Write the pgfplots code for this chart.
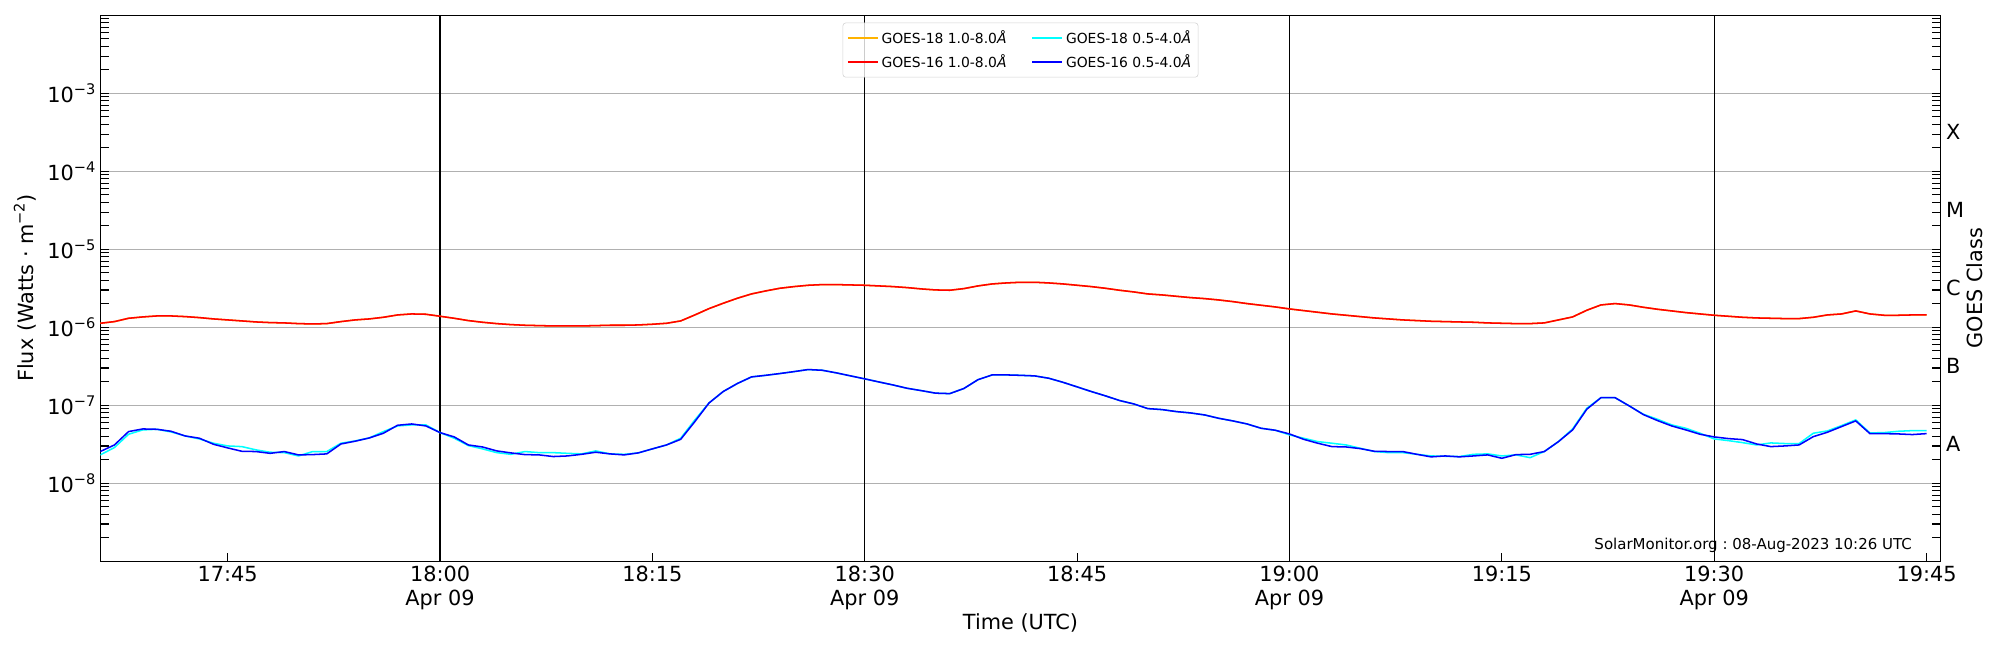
\documentclass[border=0pt]{standalone}
\usepackage{fontspec}
\setmainfont{DejaVu Sans}
\usepackage{pgfplots}
\usepackage{pgfplotstable}
\pgfplotsset{compat=1.18}
\frenchspacing
\definecolor{gold18}{HTML}{FFB300}
\definecolor{red16}{HTML}{FF0000}
\definecolor{cyan18}{HTML}{00FFFF}
\definecolor{blue16}{HTML}{0000FF}
\newcommand{\sups}[1]{\raisebox{0.42em}{\fontsize{10.5}{12}\selectfont #1}}
\newcommand{\lblfont}{\fontsize{15}{17}\selectfont}

\pgfplotstableread{
t L18 L16 S18 S16
36 1.125e-6 1.125e-6 2.31e-8 2.55e-8
37 1.182e-6 1.182e-6 2.87e-8 3.10e-8
38 1.304e-6 1.304e-6 4.25e-8 4.60e-8
39 1.357e-6 1.357e-6 4.83e-8 4.97e-8
40 1.397e-6 1.397e-6 4.92e-8 4.92e-8
41 1.397e-6 1.397e-6 4.55e-8 4.64e-8
42 1.370e-6 1.370e-6 4.04e-8 4.04e-8
43 1.330e-6 1.330e-6 3.70e-8 3.78e-8
44 1.279e-6 1.279e-6 3.26e-8 3.16e-8
45 1.242e-6 1.242e-6 3.01e-8 2.84e-8
46 1.206e-6 1.206e-6 2.95e-8 2.57e-8
47 1.170e-6 1.170e-6 2.68e-8 2.55e-8
48 1.148e-6 1.148e-6 2.50e-8 2.42e-8
49 1.137e-6 1.137e-6 2.47e-8 2.55e-8
50 1.114e-6 1.114e-6 2.24e-8 2.31e-8
51 1.103e-6 1.103e-6 2.55e-8 2.33e-8
52 1.114e-6 1.114e-6 2.55e-8 2.38e-8
53 1.182e-6 1.182e-6 3.26e-8 3.19e-8
54 1.242e-6 1.242e-6 3.49e-8 3.46e-8
55 1.279e-6 1.279e-6 3.81e-8 3.81e-8
56 1.343e-6 1.343e-6 4.60e-8 4.38e-8
57 1.439e-6 1.439e-6 5.43e-8 5.54e-8
58 1.482e-6 1.482e-6 5.60e-8 5.76e-8
59 1.468e-6 1.468e-6 5.60e-8 5.43e-8
60 1.384e-6 1.384e-6 4.46e-8 4.46e-8
61 1.304e-6 1.304e-6 3.78e-8 3.93e-8
62 1.218e-6 1.218e-6 3.04e-8 3.10e-8
63 1.159e-6 1.159e-6 2.76e-8 2.92e-8
64 1.114e-6 1.114e-6 2.47e-8 2.60e-8
65 1.082e-6 1.082e-6 2.35e-8 2.45e-8
66 1.061e-6 1.061e-6 2.55e-8 2.33e-8
67 1.050e-6 1.050e-6 2.47e-8 2.31e-8
68 1.040e-6 1.040e-6 2.47e-8 2.20e-8
69 1.040e-6 1.040e-6 2.42e-8 2.24e-8
70 1.040e-6 1.040e-6 2.38e-8 2.35e-8
71 1.050e-6 1.050e-6 2.60e-8 2.50e-8
72 1.061e-6 1.061e-6 2.38e-8 2.38e-8
73 1.061e-6 1.061e-6 2.35e-8 2.31e-8
74 1.071e-6 1.071e-6 2.45e-8 2.45e-8
75 1.093e-6 1.093e-6 2.76e-8 2.76e-8
76 1.125e-6 1.125e-6 3.10e-8 3.10e-8
77 1.206e-6 1.206e-6 3.78e-8 3.66e-8
78 1.439e-6 1.439e-6 6.49e-8 6.18e-8
79 1.735e-6 1.735e-6 1.07e-7 1.07e-7
80 2.031e-6 2.031e-6 1.50e-7 1.50e-7
81 2.355e-6 2.355e-6 1.90e-7 1.90e-7
82 2.675e-6 2.675e-6 2.31e-7 2.31e-7
83 2.923e-6 2.923e-6 2.42e-7 2.42e-7
84 3.162e-6 3.162e-6 2.55e-7 2.55e-7
85 3.322e-6 3.322e-6 2.70e-7 2.70e-7
86 3.455e-6 3.455e-6 2.87e-7 2.87e-7
87 3.524e-6 3.524e-6 2.81e-7 2.81e-7
88 3.524e-6 3.524e-6 2.60e-7 2.60e-7
89 3.489e-6 3.489e-6 2.38e-7 2.38e-7
90 3.455e-6 3.455e-6 2.18e-7 2.18e-7
91 3.389e-6 3.389e-6 1.99e-7 1.99e-7
92 3.322e-6 3.322e-6 1.82e-7 1.82e-7
93 3.225e-6 3.225e-6 1.65e-7 1.65e-7
94 3.101e-6 3.101e-6 1.54e-7 1.54e-7
95 3.011e-6 3.011e-6 1.43e-7 1.43e-7
96 2.982e-6 2.982e-6 1.41e-7 1.41e-7
97 3.131e-6 3.131e-6 1.64e-7 1.64e-7
98 3.389e-6 3.389e-6 2.13e-7 2.13e-7
99 3.594e-6 3.594e-6 2.45e-7 2.45e-7
100 3.701e-6 3.701e-6 2.45e-7 2.45e-7
101 3.775e-6 3.775e-6 2.42e-7 2.42e-7
102 3.775e-6 3.775e-6 2.38e-7 2.38e-7
103 3.701e-6 3.701e-6 2.22e-7 2.22e-7
104 3.594e-6 3.594e-6 1.97e-7 1.97e-7
105 3.455e-6 3.455e-6 1.72e-7 1.72e-7
106 3.322e-6 3.322e-6 1.50e-7 1.50e-7
107 3.162e-6 3.162e-6 1.32e-7 1.32e-7
108 2.982e-6 2.982e-6 1.15e-7 1.15e-7
109 2.838e-6 2.838e-6 1.04e-7 1.04e-7
110 2.675e-6 2.675e-6 9.06e-8 9.06e-8
111 2.597e-6 2.597e-6 8.80e-8 8.80e-8
112 2.497e-6 2.497e-6 8.30e-8 8.30e-8
113 2.401e-6 2.401e-6 7.98e-8 7.98e-8
114 2.331e-6 2.331e-6 7.52e-8 7.52e-8
115 2.240e-6 2.240e-6 6.81e-8 6.81e-8
116 2.133e-6 2.133e-6 6.30e-8 6.30e-8
117 2.012e-6 2.012e-6 5.76e-8 5.76e-8
118 1.915e-6 1.915e-6 5.07e-8 5.07e-8
119 1.823e-6 1.823e-6 4.78e-8 4.78e-8
120 1.718e-6 1.718e-6 4.17e-8 4.29e-8
121 1.636e-6 1.636e-6 3.78e-8 3.66e-8
122 1.557e-6 1.557e-6 3.42e-8 3.26e-8
123 1.482e-6 1.482e-6 3.26e-8 2.95e-8
124 1.425e-6 1.425e-6 3.10e-8 2.92e-8
125 1.370e-6 1.370e-6 2.81e-8 2.78e-8
126 1.317e-6 1.317e-6 2.55e-8 2.57e-8
127 1.279e-6 1.279e-6 2.47e-8 2.55e-8
128 1.242e-6 1.242e-6 2.47e-8 2.55e-8
129 1.218e-6 1.218e-6 2.35e-8 2.35e-8
130 1.194e-6 1.194e-6 2.24e-8 2.18e-8
131 1.182e-6 1.182e-6 2.22e-8 2.24e-8
132 1.170e-6 1.170e-6 2.20e-8 2.18e-8
133 1.159e-6 1.159e-6 2.35e-8 2.24e-8
134 1.137e-6 1.137e-6 2.38e-8 2.31e-8
135 1.125e-6 1.125e-6 2.24e-8 2.09e-8
136 1.114e-6 1.114e-6 2.31e-8 2.33e-8
137 1.114e-6 1.114e-6 2.13e-8 2.35e-8
138 1.137e-6 1.137e-6 2.55e-8 2.55e-8
139 1.242e-6 1.242e-6 3.42e-8 3.42e-8
140 1.357e-6 1.357e-6 4.97e-8 4.83e-8
141 1.652e-6 1.652e-6 9.15e-8 8.89e-8
142 1.933e-6 1.933e-6 1.25e-7 1.25e-7
143 2.012e-6 2.012e-6 1.25e-7 1.25e-7
144 1.933e-6 1.933e-6 9.81e-8 9.81e-8
145 1.805e-6 1.805e-6 7.67e-8 7.59e-8
146 1.701e-6 1.701e-6 6.61e-8 6.36e-8
147 1.620e-6 1.620e-6 5.60e-8 5.43e-8
148 1.542e-6 1.542e-6 5.07e-8 4.83e-8
149 1.482e-6 1.482e-6 4.38e-8 4.25e-8
150 1.425e-6 1.425e-6 3.70e-8 3.93e-8
151 1.384e-6 1.384e-6 3.52e-8 3.74e-8
152 1.343e-6 1.343e-6 3.32e-8 3.63e-8
153 1.317e-6 1.317e-6 3.10e-8 3.19e-8
154 1.304e-6 1.304e-6 3.29e-8 2.95e-8
155 1.292e-6 1.292e-6 3.23e-8 3.01e-8
156 1.292e-6 1.292e-6 3.23e-8 3.10e-8
157 1.343e-6 1.343e-6 4.38e-8 3.96e-8
158 1.439e-6 1.439e-6 4.69e-8 4.51e-8
159 1.482e-6 1.482e-6 5.49e-8 5.33e-8
160 1.620e-6 1.620e-6 6.49e-8 6.30e-8
161 1.482e-6 1.482e-6 4.42e-8 4.33e-8
162 1.425e-6 1.425e-6 4.46e-8 4.33e-8
163 1.425e-6 1.425e-6 4.64e-8 4.29e-8
164 1.439e-6 1.439e-6 4.73e-8 4.21e-8
165 1.439e-6 1.439e-6 4.73e-8 4.33e-8
}\goes

\begin{document}
\begin{tikzpicture}
\path[use as bounding box] (-72.2pt,-63.9pt) rectangle (1367.8pt,404.1pt);
\begin{axis}[
  at={(0pt,0pt)}, anchor=south west,
  scale only axis, width=1325.1pt, height=393.1pt,
  xmin=36, xmax=166,
  ymode=log, ymin=1e-9, ymax=1e-2,
  xtick={45,60,75,90,105,120,135,150,165},
  xticklabels={17:45,{18:00\\Apr 09},18:15,{18:30\\Apr 09},18:45,{19:00\\Apr 09},19:15,{19:30\\Apr 09},19:45},
  xticklabel style={align=center, font=\lblfont},
  ytick={1e-8,1e-7,1e-6,1e-5,1e-4,1e-3},
  yticklabels={10\sups{−8},10\sups{−7},10\sups{−6},10\sups{−5},10\sups{−4},10\sups{−3}},
  yticklabel style={font=\lblfont},
  minor ytick={2e-9,3e-9,4e-9,5e-9,6e-9,7e-9,8e-9,9e-9,
               2e-8,3e-8,4e-8,5e-8,6e-8,7e-8,8e-8,9e-8,
               2e-7,3e-7,4e-7,5e-7,6e-7,7e-7,8e-7,9e-7,
               2e-6,3e-6,4e-6,5e-6,6e-6,7e-6,8e-6,9e-6,
               2e-5,3e-5,4e-5,5e-5,6e-5,7e-5,8e-5,9e-5,
               2e-4,3e-4,4e-4,5e-4,6e-4,7e-4,8e-4,9e-4,
               2e-3,3e-3,4e-3,5e-3,6e-3,7e-3,8e-3,9e-3},
  tick align=inside,
  xtick pos=left, ytick pos=both, yticklabel pos=left,
  major tick length=6.2pt, minor tick length=6.2pt,
  tick style={black, line width=0.8pt},
  axis line style={line width=0.9pt},
  ymajorgrids, major grid style={gray!62, line width=0.8pt},
  xlabel={Time (UTC)},
  xlabel style={at={(axis description cs:0.5,-0.1135)}, anchor=center, font=\lblfont},
  ylabel={Flux (Watts · m\sups{−2})},
  ylabel style={at={(axis description cs:-0.0409,0.5)}, anchor=center, font=\lblfont},
  legend columns=2,
  legend cell align=left,
  legend image code/.code={\draw[#1, line width=1.2pt] (0pt,0pt) -- (21.6pt,0pt);},
  legend style={at={(0.5,0.9865)}, anchor=north, draw=gray!35, rounded corners=2pt,
    fill=white, fill opacity=0.8, text opacity=1, draw opacity=1, font=\fontsize{10}{12}\selectfont,
    inner xsep=3pt, inner ysep=3.5pt, row sep=2.5pt,
    /tikz/every even column/.append style={column sep=16pt}},
]
\addplot[black, line width=0.9pt, forget plot] coordinates {(60,1e-9) (60,1e-2)};
\addplot[black, line width=0.9pt, forget plot] coordinates {(90,1e-9) (90,1e-2)};
\addplot[black, line width=0.9pt, forget plot] coordinates {(120,1e-9) (120,1e-2)};
\addplot[black, line width=0.9pt, forget plot] coordinates {(150,1e-9) (150,1e-2)};
\addplot[gold18, line width=1.1pt] table[x=t, y=L18]{\goes};
\addlegendentry{GOES-18 1.0-8.0\textit{Å}}
\addplot[cyan18, line width=1.1pt] table[x=t, y=S18]{\goes};
\addlegendentry{GOES-18 0.5-4.0\textit{Å}}
\addplot[red16, line width=1.1pt] table[x=t, y=L16]{\goes};
\addlegendentry{GOES-16 1.0-8.0\textit{Å}}
\addplot[blue16, line width=1.1pt] table[x=t, y=S16]{\goes};
\addlegendentry{GOES-16 0.5-4.0\textit{Å}}
\node[anchor=base east, font=\fontsize{10.8}{13}\selectfont] at (rel axis cs:0.987,0.022) {SolarMonitor.org : 08-Aug-2023 10:26 UTC};
\end{axis}
\begin{axis}[
  at={(0pt,0pt)}, anchor=south west,
  scale only axis, width=1325.1pt, height=393.1pt,
  xmin=36, xmax=166,
  ymode=log, ymin=1e-9, ymax=1e-2,
  hide x axis, axis y line*=right,
  axis line style={draw=none},
  ytick={3.162e-8,3.162e-7,3.162e-6,3.162e-5,3.162e-4},
  yticklabels={A,B,C,M,X},
  yticklabel style={font=\lblfont, inner xsep=3.6pt},
  major tick length=0pt, minor tick length=0pt,
  tick style={draw=none},
  ylabel={GOES Class},
  ylabel style={at={(axis description cs:1.01864,0.5)}, anchor=center, font=\lblfont},
]
\end{axis}
\end{tikzpicture}
\end{document}
